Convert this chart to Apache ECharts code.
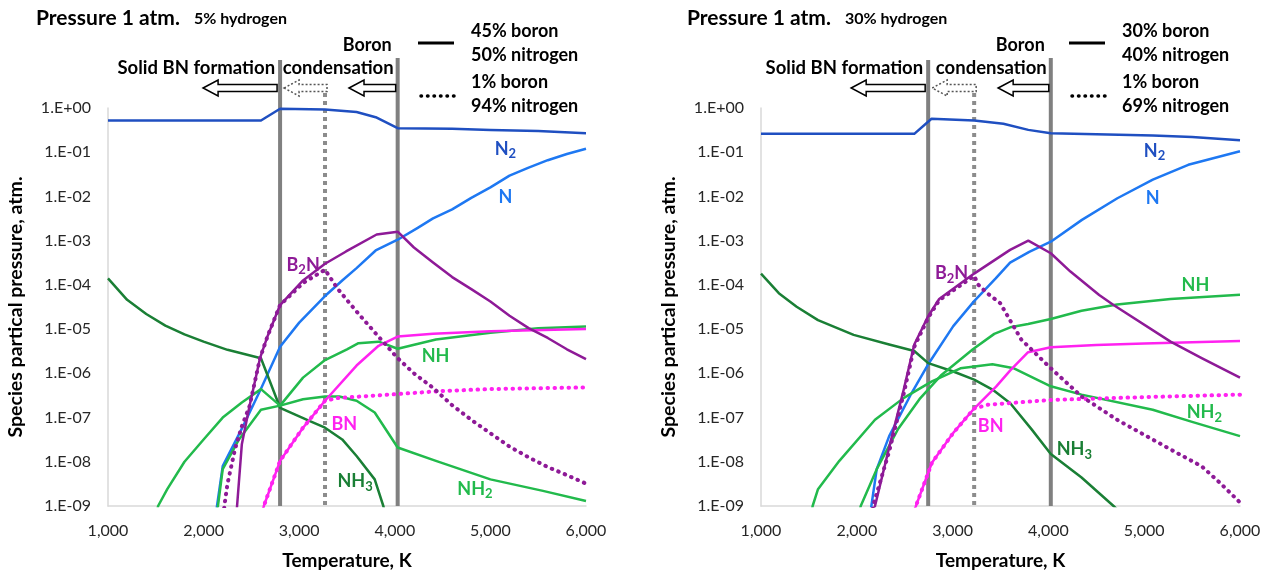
<!DOCTYPE html>
<html><head><meta charset="utf-8">
<script src="https://cdn.jsdelivr.net/npm/echarts@6/dist/echarts.min.js"></script>
<style>html,body{margin:0;padding:0;background:#fff}#c{width:1269px;height:580px}</style>
</head><body><div id="c"></div>
<script>
// ---------------- DATA ----------------
const X_MIN = 1000, X_MAX = 6000, X_STEP = 1000;
const Y_MIN = 1e-9, Y_MAX = 1;

// Left panel: 5% hydrogen  ([temperature K, partial pressure atm])
const L_N2 = [[1000,0.52],[2600,0.52],[2800,0.96],[3270,0.92],[3600,0.81],[3800,0.62],[4030,0.35],[4600,0.34],[5000,0.32],[5500,0.30],[6000,0.27]];
const L_N = [[2100,2.5e-10],[2200,8e-9],[2400,5.6e-8],[2600,4.5e-7],[2800,4e-6],[3000,1.4e-5],[3270,5.6e-5],[3450,1.26e-4],[3600,2.4e-4],[3800,6e-4],[4030,1.05e-3],[4240,1.95e-3],[4400,3.2e-3],[4600,5.1e-3],[4800,9.3e-3],[5000,1.6e-2],[5200,2.95e-2],[5400,4.5e-2],[5600,6.6e-2],[5800,9.1e-2],[6000,0.12]];
const L_B2N = [[2330,3e-10],[2350,1e-9],[2400,2.5e-8],[2480,1.8e-7],[2590,2.2e-6],[2670,7e-6],[2800,3.5e-5],[3040,1.26e-4],[3270,3e-4],[3490,5.7e-4],[3810,1.38e-3],[4030,1.6e-3],[4200,7e-4],[4400,3.2e-4],[4600,1.5e-4],[4800,8e-5],[5000,4.2e-5],[5200,2e-5],[5400,1.05e-5],[5600,6.3e-6],[5800,3.5e-6],[6000,2.1e-6]];
const L_B2N_DOT = [[2200,3e-10],[2217,1e-9],[2250,3.2e-9],[2330,2e-8],[2400,6.3e-8],[2480,1.8e-7],[2590,2.2e-6],[2670,7e-6],[2800,3.5e-5],[3040,1.1e-4],[3270,2.2e-4],[3400,8.3e-5],[3600,2.5e-5],[3800,8e-6],[4030,2.2e-6],[4200,1e-6],[4400,4.7e-7],[4600,1.9e-7],[4800,8.9e-8],[5000,4.4e-8],[5200,2.2e-8],[5400,1.26e-8],[5600,7.6e-9],[5800,5e-9],[6000,3.2e-9]];
const L_NH3 = [[1000,1.4e-4],[1200,4.6e-5],[1400,2.2e-5],[1600,1.2e-5],[1800,7.6e-6],[2000,5.2e-6],[2250,3.4e-6],[2600,2.2e-6],[2800,1.66e-7],[3100,8.5e-8],[3270,5.9e-8],[3450,3.2e-8],[3600,1.35e-8],[3790,4e-9],[3880,1e-9],[3950,2.5e-10]];
const L_NH2 = [[1500,5e-10],[1524,1e-9],[1620,2.4e-9],[1800,1e-8],[2000,3.2e-8],[2200,1e-7],[2400,2.2e-7],[2600,4.4e-7],[2800,1.86e-7],[3040,2.6e-7],[3270,3e-7],[3420,3e-7],[3600,2.4e-7],[3790,1.3e-7],[4030,2.1e-8],[4430,1.05e-8],[5000,4e-9],[5550,2.2e-9],[6000,1.3e-9]];
const L_NH = [[2100,1.6e-10],[2150,1e-9],[2200,6.8e-9],[2370,3.2e-8],[2600,1.5e-7],[2800,1.86e-7],[3040,8e-7],[3270,2e-6],[3500,3.5e-6],[3620,4.8e-6],[3830,5.2e-6],[4030,3.6e-6],[4430,5.8e-6],[5000,8.3e-6],[5500,1.05e-5],[6000,1.15e-5]];
const L_BN = [[2600,4e-10],[2630,1e-9],[2800,1.05e-8],[3040,5.9e-8],[3270,2.4e-7],[3600,1.5e-6],[3830,4.2e-6],[4030,6.8e-6],[4400,7.9e-6],[5000,8.9e-6],[6000,1e-5]];
const L_BN_DOT = [[2600,4e-10],[2630,1e-9],[2800,1.05e-8],[3040,5.9e-8],[3270,2.4e-7],[3400,2.75e-7],[3600,2.95e-7],[4030,3.4e-7],[4500,4e-7],[5000,4.4e-7],[5500,4.6e-7],[6000,4.8e-7]];
const L_LINES = [2800, 3270, 4030];

// Right panel: 30% hydrogen
const R_N2 = [[1000,0.26],[2600,0.26],[2780,0.57],[3225,0.52],[3530,0.44],[3790,0.32],[4025,0.27],[5090,0.24],[5500,0.22],[6000,0.186]];
const R_N = [[2100,1.6e-10],[2152,1e-9],[2208,6.8e-9],[2338,3.8e-8],[2560,3.2e-7],[2745,1.6e-6],[3007,1.17e-5],[3225,4.3e-5],[3450,1.4e-4],[3600,3.2e-4],[3800,5.6e-4],[4025,9.5e-4],[4350,2.95e-3],[4720,9.1e-3],[5090,2.4e-2],[5460,5.2e-2],[6000,0.105]];
const R_B2N = [[2150,4e-10],[2190,1e-9],[2340,2.2e-8],[2490,4.3e-7],[2600,4.5e-6],[2745,1.95e-5],[2860,4.8e-5],[3225,1.8e-4],[3600,6.2e-4],[3790,1e-3],[4025,5.2e-4],[4230,2e-4],[4530,5.9e-5],[4680,3.5e-5],[5275,5.2e-6],[5600,2.2e-6],[6000,8e-7]];
const R_B2N_DOT = [[2150,2e-10],[2170,1e-9],[2340,1.8e-8],[2490,3.5e-7],[2600,4e-6],[2745,1.8e-5],[2860,4.5e-5],[3225,1.6e-4],[3270,1e-4],[3360,6.5e-5],[3495,3.9e-5],[3717,5.8e-6],[4025,1.3e-6],[4346,3e-7],[4717,8.9e-8],[5275,1.9e-8],[5600,7.9e-9],[5800,3.2e-9],[6000,1.2e-9]];
const R_NH3 = [[1000,1.8e-4],[1186,6.5e-5],[1372,3.2e-5],[1595,1.6e-5],[1967,7.4e-6],[2338,4.5e-6],[2600,3.2e-6],[2745,1.7e-6],[3007,1.1e-6],[3225,7.2e-7],[3416,4.3e-7],[3602,2.1e-7],[3825,5.4e-8],[4025,1.5e-8],[4346,4.4e-9],[4680,1e-9],[4800,5.6e-10]];
const R_NH2 = [[1500,3e-10],[1539,1e-9],[1595,2.4e-9],[1818,1.05e-8],[2190,8.9e-8],[2487,2.75e-7],[2784,6.6e-7],[3082,1.3e-6],[3416,1.6e-6],[3640,1.3e-6],[4025,5.1e-7],[4346,3.3e-7],[5089,1.5e-7],[5500,8e-8],[6000,3.8e-8]];
const R_NH = [[2000,4e-10],[2041,1e-9],[2208,6.8e-9],[2431,5.5e-8],[2654,2.6e-7],[2877,8.9e-7],[3212,3.5e-6],[3435,7.8e-6],[3602,1.1e-5],[3788,1.3e-5],[4025,1.7e-5],[4346,2.6e-5],[4717,3.6e-5],[5275,4.8e-5],[6000,6e-5]];
const R_BN = [[2580,4e-10],[2617,1e-9],[2784,9.5e-9],[3007,4.5e-8],[3225,1.6e-7],[3454,5e-7],[3602,1.17e-6],[3788,3e-6],[4025,3.9e-6],[4500,4.4e-6],[5000,4.7e-6],[6000,5.4e-6]];
const R_BN_DOT = [[2580,4e-10],[2617,1e-9],[2784,9.5e-9],[3007,4.5e-8],[3225,1.6e-7],[3370,1.95e-7],[4025,2.5e-7],[5000,2.9e-7],[6000,3.3e-7]];
const R_LINES = [2745, 3225, 4025];

// Texts
const TITLE = 'Pressure 1 atm.';
const H2_TEXT = ['5% hydrogen', '30% hydrogen'];
const MIX_SOLID = [['45% boron','50% nitrogen'], ['30% boron','40% nitrogen']];
const MIX_DOT = [['1% boron','94% nitrogen'], ['1% boron','69% nitrogen']];
const X_TITLE = 'Temperature, K';
const Y_TITLE = 'Species partical pressure, atm.';

// curve label anchors [main, sub, T, p, colourKey]
const L_LABELS = [['N','2',5157,0.12,'N2'],['N','',5157,0.0095,'N'],['B','2N',3041,2.8e-4,'B2N'],['NH','',4427,2.4e-6,'NH'],['BN','',3472,6.9e-8,'BN'],['NH','3',3584,3.6e-9,'NH3'],['NH','2',4839,2.4e-9,'NH2']];
const R_LABELS = [['N','2',5108,0.105,'N2'],['N','',5089,0.0091,'N'],['B','2N',2989,1.8e-4,'B2N'],['NH','',5535,1e-4,'NH'],['BN','',3398,6.3e-8,'BN'],['NH','3',4271,1.9e-8,'NH3'],['NH','2',5628,1.3e-7,'NH2']];

// ---------------- STYLE ----------------
const FONT = 'Lato, "Liberation Sans", sans-serif';
const COL = {N2:'#1F4FC1', N:'#1E78F2', B2N:'#8E1A97', NH3:'#1A7F35', NH:'#22BA4C', NH2:'#22BA4C', BN:'#FF22F0'};
const HF = 18;   // header font
const PF = 18.5; // phase text font
const LF = 18;   // curve label font

const panels = [
  {lines:L_LINES, series:[['N2',L_N2],['N',L_N],['NH3',L_NH3],['NH2',L_NH2],['NH',L_NH],['BN',L_BN],['BN',L_BN_DOT,1],['B2N',L_B2N],['B2N',L_B2N_DOT,1]], labels:L_LABELS, grid:{left:108,right:683,top:108,bottom:74}, dx:0},
  {lines:R_LINES, series:[['N2',R_N2],['N',R_N],['NH3',R_NH3],['NH2',R_NH2],['NH',R_NH],['BN',R_BN],['BN',R_BN_DOT,1],['B2N',R_B2N],['B2N',R_B2N_DOT,1]], labels:R_LABELS, grid:{left:761,right:29,top:108,bottom:74}, dx:651}
];

function yFmt(v){ const e=Math.round(Math.log10(v)); return '1.E'+(e<0?'-':'+')+String(Math.abs(e)).padStart(2,'0'); }

const chart = echarts.init(document.getElementById('c'));
const option = {
  animation:false,
  grid: panels.map(p=>p.grid),
  xAxis: panels.map((p,i)=>({gridIndex:i,type:'value',min:X_MIN,max:X_MAX,interval:X_STEP,
    axisLine:{lineStyle:{color:'#D9D9D9',width:1.5}},axisTick:{show:false},splitLine:{show:false},
    axisLabel:{fontFamily:FONT,fontSize:16,color:'#262626',margin:17,formatter:v=>v.toLocaleString('en-US')},
    name:X_TITLE,nameLocation:'middle',nameGap:45,nameTextStyle:{fontFamily:FONT,fontSize:19,fontWeight:'bold',color:'#000'}})),
  yAxis: panels.map((p,i)=>({gridIndex:i,type:'log',logBase:10,min:Y_MIN,max:Y_MAX,interval:1,
    axisLine:{show:true,lineStyle:{color:'#D9D9D9',width:1.5}},axisTick:{show:false},splitLine:{show:false},minorSplitLine:{show:false},
    axisLabel:{fontFamily:FONT,fontSize:16,color:'#262626',margin:17,formatter:yFmt},
    name:Y_TITLE,nameLocation:'middle',nameGap:82,nameTextStyle:{fontFamily:FONT,fontSize:19.5,fontWeight:'bold',color:'#000'}})),
  series: []
};
panels.forEach((p,i)=>{
  p.series.forEach(s=>{
    const dotted = !!s[2];
    option.series.push({type:'line',xAxisIndex:i,yAxisIndex:i,data:s[1],showSymbol:false,symbol:'none',clip:true,z:dotted?4:3,
      lineStyle:{color:COL[s[0]],width:dotted?4:2.5,type:dotted?[0.5,6.5]:'solid',cap:dotted?'round':'butt',join:'round'}});
  });
});
chart.setOption(option);

// ---------------- ANNOTATIONS ----------------
const g = [];
function txt(x,y,text,size,align,color){ g.push({type:'text',z:20,style:{x,y,text,font:'bold '+size+'px '+FONT,fill:color||'#000',align:align||'left',verticalAlign:'middle'}}); }
function arrow(x0,x1,y,dashed){
  const hl=15, hh=8, bh=3.5;
  const pts=[[x0,y],[x0+hl,y-hh],[x0+hl,y-bh],[x1,y-bh],[x1,y+bh],[x0+hl,y+bh],[x0+hl,y+hh]];
  g.push({type:'polygon',z:20,shape:{points:pts},style:{fill:'#fff',stroke:dashed?'#555':'#000',lineWidth:1.5,lineDash:dashed?[2,2]:null}});
}
const meas = document.createElement('canvas').getContext('2d');
function tw(text,size){ meas.font='bold '+size+'px '+FONT; return meas.measureText(text).width; }
panels.forEach((p,i)=>{
  const d=p.dx;
  const yBot = chart.convertToPixel({yAxisIndex:i}, Y_MIN);
  const xs = p.lines.map(t=>chart.convertToPixel({xAxisIndex:i}, t));
  // vertical phase lines
  g.push({type:'line',z:1,shape:{x1:xs[0],y1:60,x2:xs[0],y2:yBot},style:{stroke:'#808080',lineWidth:4}});
  g.push({type:'line',z:1,shape:{x1:xs[1],y1:85,x2:xs[1],y2:yBot},style:{stroke:'#8C8C8C',lineWidth:4,lineDash:[4,4]}});
  g.push({type:'line',z:1,shape:{x1:xs[2],y1:58,x2:xs[2],y2:yBot},style:{stroke:'#808080',lineWidth:4}});
  // header
  txt(36+d,18,TITLE,21);
  txt(36+d+tw(TITLE,21)+14,19,H2_TEXT[i],16);
  txt(xs[2]-6,45,'Boron',HF,'right');
  txt(xs[2]-4,68,'condensation',PF,'right');
  txt(xs[0]-5,68,'Solid BN formation',PF,'right');
  // legend
  g.push({type:'line',z:20,shape:{x1:418+d,y1:43,x2:454+d,y2:43},style:{stroke:'#000',lineWidth:3}});
  g.push({type:'line',z:20,shape:{x1:421+d,y1:96,x2:454+d,y2:96},style:{stroke:'#000',lineWidth:3.5,lineDash:[0.5,6],lineCap:'round'}});
  txt(471+d,31,MIX_SOLID[i][0],HF); txt(471+d,55,MIX_SOLID[i][1],HF);
  txt(471+d,82,MIX_DOT[i][0],HF); txt(471+d,106,MIX_DOT[i][1],HF);
  // arrows
  arrow(xs[0]-77, xs[0]-3, 88, false);
  arrow(xs[0]+4, xs[1]+2, 88, true);
  arrow(xs[1]+24, xs[2]-2, 88, false);
  // curve labels
  p.labels.forEach(l=>{
    const [px,py] = chart.convertToPixel({gridIndex:i}, [l[2], l[3]]);
    const color = COL[l[4]];
    const SF = LF-5;
    const w1 = tw(l[0],LF);
    let wTot;
    if(l[1]==='2N') wTot = w1 + tw('2',SF) + tw('N',LF);
    else wTot = w1 + (l[1]?tw(l[1],SF):0);
    const x = px - wTot/2;
    txt(x,py,l[0],LF,'left',color);
    if(l[1]==='2N'){
      txt(x+w1,py+5,'2',SF,'left',color);
      txt(x+w1+tw('2',SF),py,'N',LF,'left',color);
    } else if(l[1]){
      txt(x+w1,py+5,l[1],SF,'left',color);
    }
  });
});
chart.setOption({graphic:{elements:g}});
</script>
</body></html>
